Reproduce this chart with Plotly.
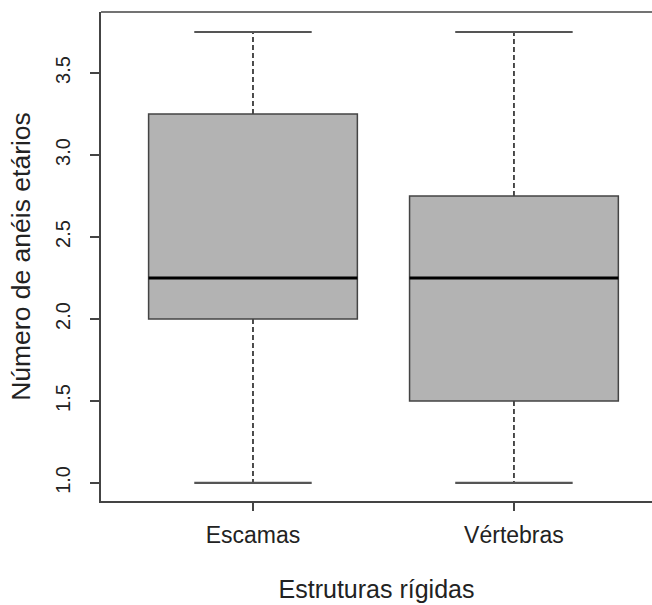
import plotly.graph_objects as go

categories = ["Escamas", "Vértebras"]
positions = [1, 2]
lower_whisker = [1.0, 1.0]
q1 = [2.0, 1.5]
median = [2.25, 2.25]
q3 = [3.25, 2.75]
upper_whisker = [3.75, 3.75]
y_ticks = [1.0, 1.5, 2.0, 2.5, 3.0, 3.5]
y_tick_labels = ["1.0", "1.5", "2.0", "2.5", "3.0", "3.5"]

BOX_HALF = 0.4
CAP_HALF = 0.225
FONT = "Arial, Liberation Sans, Helvetica, sans-serif"
LINE_C = "#444444"

fig = go.Figure()

fig.add_trace(go.Box(
    x=positions, q1=q1, median=median, q3=q3,
    lowerfence=q1, upperfence=q3,
    width=2 * BOX_HALF, fillcolor="#b3b3b3",
    line=dict(color=LINE_C, width=1.5), whiskerwidth=0,
    boxpoints=False, hoverinfo="skip", showlegend=False,
))

# whiskers (dashed)
wx, wy = [], []
for p, a, b, c, d in zip(positions, lower_whisker, q1, q3, upper_whisker):
    wx += [p, p, None, p, p, None]
    wy += [c, d, None, b, a, None]
fig.add_trace(go.Scatter(x=wx, y=wy, mode="lines",
                         line=dict(color=LINE_C, width=1.9, dash="5px,3px"),
                         hoverinfo="skip", showlegend=False))

# staples
sx, sy = [], []
for p, a, d in zip(positions, lower_whisker, upper_whisker):
    sx += [p - CAP_HALF, p + CAP_HALF, None, p - CAP_HALF, p + CAP_HALF, None]
    sy += [d, d, None, a, a, None]
fig.add_trace(go.Scatter(x=sx, y=sy, mode="lines",
                         line=dict(color="#555555", width=2.2),
                         hoverinfo="skip", showlegend=False))

# medians
mx, my = [], []
for p, m in zip(positions, median):
    mx += [p - BOX_HALF, p + BOX_HALF, None]
    my += [m, m, None]
fig.add_trace(go.Scatter(x=mx, y=my, mode="lines",
                         line=dict(color="#000000", width=3.2),
                         hoverinfo="skip", showlegend=False))

fig.update_layout(
    width=652, height=605,
    margin=dict(l=101, r=0, t=12, b=104),
    paper_bgcolor="white", plot_bgcolor="white",
    font=dict(family=FONT, color="#222222"),
    hovermode=False,
    xaxis=dict(
        range=[0.4176, 2.529], tickvals=positions, ticktext=categories,
        ticks="outside", ticklen=8, tickwidth=1.5, tickcolor=LINE_C,
        showline=True, linecolor=LINE_C, linewidth=1.5,
        showgrid=False, zeroline=False,
        tickfont=dict(size=23, color="#222222"),
        ticklabelstandoff=5,
        title=dict(text="Estruturas rígidas", font=dict(size=25, color="#222222"), standoff=33),
    ),
    yaxis=dict(
        range=[0.890, 3.872], tickvals=y_ticks, ticktext=y_tick_labels,
        tickangle=-90,
        ticks="outside", ticklen=9, tickwidth=1.5, tickcolor=LINE_C,
        showline=True, linecolor=LINE_C, linewidth=1.5,
        showgrid=False, zeroline=False,
        tickfont=dict(size=20, color="#222222"),
        ticklabelstandoff=12,
        title=dict(text="Número de anéis etários", font=dict(size=26.5, color="#222222"), standoff=14),
    ),
    shapes=[dict(type="line", xref="paper", yref="paper", x0=0, x1=1, y0=1, y1=1,
                 line=dict(color=LINE_C, width=1.5))],
)

fig.write_html("out.html", config={"displayModeBar": False},
               post_script="document.body.style.margin='0';")
